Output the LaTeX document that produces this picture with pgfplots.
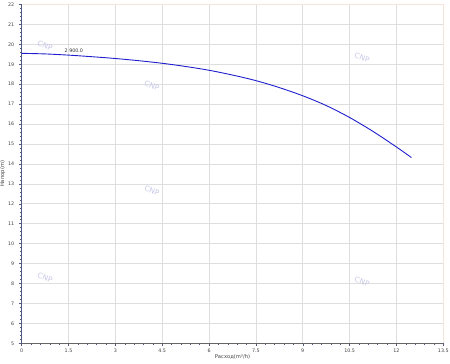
\documentclass[border=0pt]{standalone}
\usepackage{pgfplots}
\pgfplotsset{compat=1.18}
\usepackage{fontspec}
\setmainfont{DejaVu Sans}
\definecolor{curve}{RGB}{30,30,205}
\definecolor{wm}{RGB}{200,200,232}
\definecolor{gridc}{RGB}{222,222,222}
\definecolor{leftax}{RGB}{80,90,130}
\definecolor{frame}{RGB}{245,228,218}
\begin{document}
\begin{tikzpicture}
\path[use as bounding box] (0,0) rectangle (450pt,364pt);
\begin{axis}[
  at={(21.7pt,20.7pt)}, anchor=south west,
  scale only axis, width=421.6pt, height=338.8pt,
  xmin=0, xmax=13.5, ymin=5, ymax=22,
  xtick={0,1.5,3,4.5,6,7.5,9,10.5,12,13.5},
  xticklabels={0,1.5,3,4.5,6,7.5,9,10.5,12,13.5},
  ytick={5,6,7,8,9,10,11,12,13,14,15,16,17,18,19,20,21,22},
  yticklabels={5,6,7,8,9,10,11,12,13,14,15,16,17,18,19,20,21,22},
  minor x tick num=4, minor y tick num=4,
  xtick pos=bottom, ytick pos=left,
  tick align=outside,
  major tick length=3pt, minor tick length=1.6pt,
  every tick/.style={color=leftax, line width=0.5pt},
  grid=major, major grid style={gridc, line width=0.7pt},
  axis line style={draw=none},
  tick label style={font=\fontsize{4.8}{5}\selectfont, text=black!75},
  xticklabel style={yshift=1pt},
  yticklabel style={xshift=-1pt},
  xlabel={Расход(m³/h)}, ylabel={Напор(m)},
  label style={font=\fontsize{5.2}{6}\selectfont, text=black!75},
  xlabel style={yshift=5pt},
  ylabel style={yshift=-4pt},
  clip=false,
]
\draw[frame, line width=0.7pt] (rel axis cs:0,1) -- (rel axis cs:1,1) -- (rel axis cs:1,0);
\draw[leftax, line width=0.8pt] (rel axis cs:0,0) -- (rel axis cs:0,1);
\draw[black!60, line width=0.8pt] (rel axis cs:0,0) -- (rel axis cs:1,0);
\node[wm, rotate=-20, font=\fontsize{7.5}{8}\selectfont] at (axis cs:0.75,19.92) {CNP};
\node[wm, rotate=-20, font=\fontsize{7.5}{8}\selectfont] at (axis cs:4.17,17.91) {CNP};
\node[wm, rotate=-20, font=\fontsize{7.5}{8}\selectfont] at (axis cs:4.17,12.64) {CNP};
\node[wm, rotate=-20, font=\fontsize{7.5}{8}\selectfont] at (axis cs:0.75,8.28) {CNP};
\node[wm, rotate=-20, font=\fontsize{7.5}{8}\selectfont] at (axis cs:10.9,19.32) {CNP};
\node[wm, rotate=-20, font=\fontsize{7.5}{8}\selectfont] at (axis cs:10.9,8.08) {CNP};
\addplot[curve, line width=0.9pt, smooth] coordinates {
(0,19.55) (0.75,19.52) (1.5,19.46) (2.25,19.38) (3,19.29) (3.75,19.18) (4.5,19.05)
(5.25,18.89) (6,18.70) (6.75,18.46) (7.5,18.18) (8.25,17.83) (9,17.42) (9.75,16.93)
(10.5,16.33) (11.25,15.63) (12,14.85) (12.48,14.32)
};
\node[font=\fontsize{4.8}{5}\selectfont, text=black!80] at (axis cs:1.67,19.68) {2 900.0};
\end{axis}
\end{tikzpicture}
\end{document}
